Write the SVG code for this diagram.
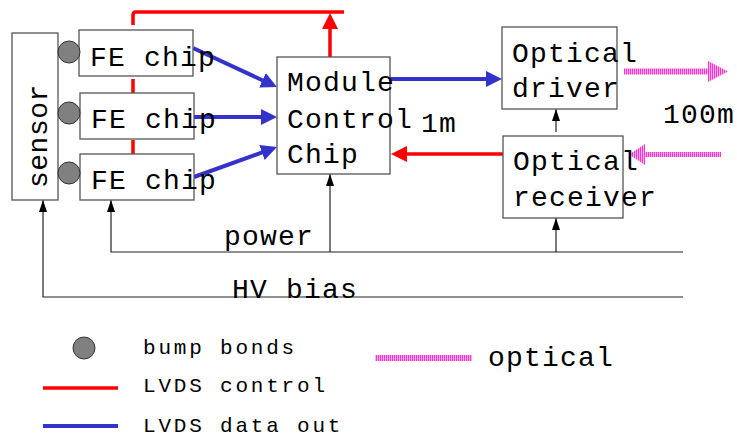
<svg xmlns="http://www.w3.org/2000/svg" width="737" height="440" viewBox="0 0 737 440">
<style>
text{font-family:"Liberation Mono","DejaVu Sans Mono",monospace;fill:#000}
.t{font-size:28px;letter-spacing:1.2px}
.lg{font-size:21px;letter-spacing:2.8px}
.box{fill:#fff;stroke:#555;stroke-width:1.3}
.bump{fill:#808080;stroke:#333;stroke-width:1}
.thin{stroke:#222;stroke-width:1.2;fill:none}
.red{stroke:#ff0000;stroke-width:3.5;fill:none}
.blue{stroke:#3333cc;stroke-width:4;fill:none}
</style>
<defs>
<pattern id="stripes" patternUnits="userSpaceOnUse" width="2" height="10">
<rect width="2" height="10" fill="#ffb3ee"/>
<rect width="1" height="10" fill="#ff33cc"/>
</pattern>
<marker id="ab" markerUnits="userSpaceOnUse" markerWidth="16" markerHeight="16" refX="4" refY="8" orient="auto">
<path d="M0,0 L16,8 L0,16 z" fill="#3333cc"/>
</marker>
<marker id="ar" markerUnits="userSpaceOnUse" markerWidth="16" markerHeight="16" refX="4" refY="8" orient="auto">
<path d="M0,0 L16,8 L0,16 z" fill="#ff0000"/>
</marker>
<marker id="ak" markerUnits="userSpaceOnUse" markerWidth="12" markerHeight="8" refX="12" refY="4" orient="auto">
<path d="M0,0 L12,4 L0,8 z" fill="#000"/>
</marker>
</defs>

<g id="connectors">
<path class="red" d="M133,25 V15 Q133,12 136,12 H344"/>
<line class="red" x1="133" y1="79" x2="133" y2="94"/>
<line class="red" x1="133" y1="140" x2="133" y2="154"/>
<line class="red" x1="330" y1="57" x2="330" y2="25" marker-end="url(#ar)"/>
<line class="red" x1="503" y1="154" x2="403" y2="154" marker-end="url(#ar)"/>
<line class="blue" x1="193" y1="48" x2="266.1" y2="82" marker-end="url(#ab)"/>
<line class="blue" x1="194" y1="117" x2="265" y2="117" marker-end="url(#ab)"/>
<line class="blue" x1="194" y1="177" x2="265.7" y2="151.1" marker-end="url(#ab)"/>
<line class="blue" x1="390" y1="79" x2="490" y2="79" marker-end="url(#ab)"/>
<polyline class="thin" points="683,252 111,252 111,200" marker-end="url(#ak)"/>
<line class="thin" x1="330" y1="252" x2="330" y2="174" marker-end="url(#ak)"/>
<line class="thin" x1="556" y1="252" x2="556" y2="218" marker-end="url(#ak)"/>
<line class="thin" x1="556" y1="132" x2="556" y2="109" marker-end="url(#ak)"/>
<polyline class="thin" points="683,297 43,297 43,200" marker-end="url(#ak)"/>
<path d="M624,68.5 H708 V61 L728,71.5 L708,82 V74.5 H624 z" fill="url(#stripes)"/>
<path d="M721,152 H645 V144 L629,154.5 L645,165 V157 H721 z" fill="url(#stripes)"/>
<text class="t" x="224" y="245">power</text>
<text class="t" x="232" y="298">HV bias</text>
<text class="t" x="421" y="132">1m</text>
<text class="t" x="663" y="123">100m</text>
</g>

<g id="sensor">
<rect class="box" x="12" y="33" width="46" height="167"/>
<text class="t" transform="translate(47,188) rotate(-90)" style="letter-spacing:0.5px">sensor</text>
</g>
<g id="fe1">
<rect class="box" x="79" y="30" width="114" height="46"/>
<text class="t" x="90" y="66">FE chip</text>
</g>
<g id="fe2">
<rect class="box" x="80" y="93" width="114" height="46"/>
<text class="t" x="91" y="127.5">FE chip</text>
</g>
<g id="fe3">
<rect class="box" x="80" y="154" width="114" height="46"/>
<text class="t" x="91" y="189">FE chip</text>
</g>
<g id="bumps">
<circle class="bump" cx="69" cy="52" r="11"/>
<circle class="bump" cx="69" cy="113" r="11"/>
<circle class="bump" cx="69" cy="173" r="11"/>
</g>
<g id="module">
<rect class="box" x="277" y="57" width="113" height="117"/>
<text class="t" x="287" y="91">Module</text>
<text class="t" x="287" y="127.5">Control</text>
<text class="t" x="287" y="162.5">Chip</text>
</g>
<g id="driver">
<rect class="box" x="502" y="27" width="115" height="82"/>
<text class="t" x="512" y="61.5">Optical</text>
<text class="t" x="512" y="97">driver</text>
</g>
<g id="receiver">
<rect class="box" x="503" y="136" width="120" height="82"/>
<text class="t" x="513" y="170">Optical</text>
<text class="t" x="513" y="206">receiver</text>
</g>

<g id="legend">
<circle class="bump" cx="84" cy="348" r="11"/>
<text class="lg" x="143" y="354">bump bonds</text>
<line class="red" x1="43" y1="388" x2="118" y2="388"/>
<text class="lg" x="143" y="392">LVDS control</text>
<line class="blue" x1="43" y1="426" x2="118" y2="426"/>
<text class="lg" x="143" y="432">LVDS data out</text>
<rect x="375" y="355" width="97" height="6" fill="url(#stripes)"/>
<text class="t" x="488" y="366">optical</text>
</g>
</svg>
